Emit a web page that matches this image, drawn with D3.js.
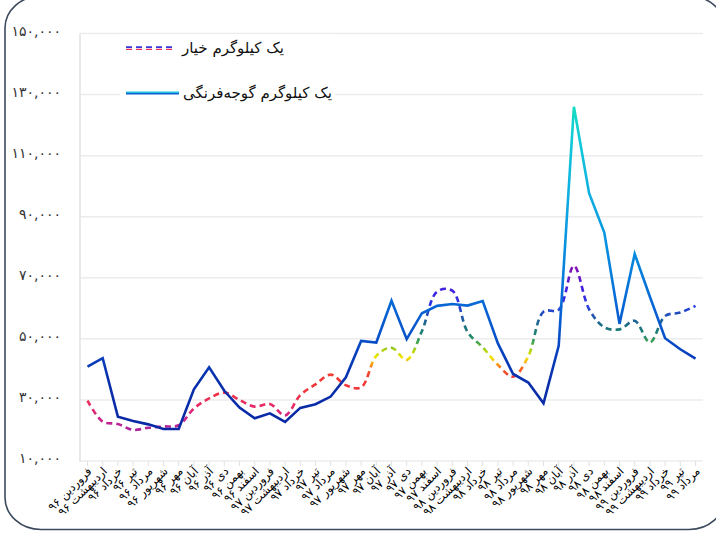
<!DOCTYPE html>
<html><head><meta charset="utf-8">
<script src="https://cdn.jsdelivr.net/npm/d3@7"></script>
<style>
html,body{margin:0;padding:0;background:#fff;}
svg{display:block;}
</style></head>
<body>
<svg id="chart" width="716" height="535"></svg>
<script>
const categories = [
 'فروردین ۹۶','اردیبهشت ۹۶','خرداد ۹۶','تیر ۹۶','مرداد ۹۶','شهریور ۹۶','مهر ۹۶','آبان ۹۶','آذر ۹۶','دی ۹۶','بهمن ۹۶','اسفند ۹۶',
 'فروردین ۹۷','اردیبهشت ۹۷','خرداد ۹۷','تیر ۹۷','مرداد ۹۷','شهریور ۹۷','مهر ۹۷','آبان ۹۷','آذر ۹۷','دی ۹۷','بهمن ۹۷','اسفند ۹۷',
 'فروردین ۹۸','اردیبهشت ۹۸','خرداد ۹۸','تیر ۹۸','مرداد ۹۸','شهریور ۹۸','مهر ۹۸','آبان ۹۸','آذر ۹۸','دی ۹۸','بهمن ۹۸','اسفند ۹۸',
 'فروردین ۹۹','اردیبهشت ۹۹','خرداد ۹۹','تیر ۹۹','مرداد ۹۹'
];
const cucumber = [29800,22900,22100,20200,20900,21300,21700,27200,30500,32400,30000,27800,28700,24900,31600,35100,38300,34800,34100,44400,47100,43100,52500,65500,65800,52300,47200,41500,37600,44300,58900,59500,73900,59700,53800,53100,55900,48800,57500,58600,60800];
const tomato = [40900,43700,24500,23100,22000,20500,20500,33500,40700,33000,27500,24000,25600,22800,27400,28600,31100,37400,49300,48800,62500,49900,58400,60800,61400,60900,62400,48500,38500,35700,28900,47700,126000,97700,84800,54900,77800,63800,50200,46600,43500];
const yTicks = [10000,30000,50000,70000,90000,110000,130000,150000];
const yTickLabels = ['۱۰,۰۰۰','۳۰,۰۰۰','۵۰,۰۰۰','۷۰,۰۰۰','۹۰,۰۰۰','۱۱۰,۰۰۰','۱۳۰,۰۰۰','۱۵۰,۰۰۰'];
const seriesNames = ['یک کیلوگرم خیار','یک کیلوگرم گوجه‌فرنگی'];
const cucumberStops = [[20000,'#a8229c'],[24000,'#d0228a'],[28000,'#e82a66'],[33000,'#f0363e'],[38000,'#f23c36'],[40500,'#f87020'],[42000,'#f8a814'],[44000,'#f0e800'],[46500,'#a8d010'],[48500,'#48a848'],[51000,'#208870'],[54500,'#1c6c84'],[58000,'#2050b8'],[61000,'#2838e0'],[66000,'#4020e0'],[74000,'#8810b0']];
const tomatoStops = [[20000,'#0a28a4'],[35000,'#0a2eaa'],[45000,'#0840bc'],[50000,'#0850c8'],[60000,'#0864d4'],[80000,'#0890e0'],[98000,'#10b0e0'],[115000,'#10c8d8'],[126000,'#14dcc0']];

const svg = d3.select('#chart');
const W = 716, H = 535;
const FONT = "'DejaVu Sans', sans-serif";

svg.append('rect').attr('x',0).attr('y',0).attr('width',W).attr('height',H).attr('fill','#fff');

const x = d3.scalePoint().domain(categories).range([87.5, 695.5]);
const y = d3.scaleLinear().domain([10000,150000]).range([461, 33.5]);
const left = 80, right = 703;

const defs = svg.append('defs');
function grad(id, stops){
  const y1 = y(stops[0][0]), y2 = y(stops[stops.length-1][0]);
  const g = defs.append('linearGradient').attr('id', id).attr('gradientUnits','userSpaceOnUse')
    .attr('x1',0).attr('x2',0).attr('y1', y1).attr('y2', y2);
  stops.forEach(s => g.append('stop').attr('offset', (y(s[0])-y1)/(y2-y1)).attr('stop-color', s[1]));
}
grad('gCuc', cucumberStops);
grad('gTom', tomatoStops);

// gridlines
svg.append('g').selectAll('line').data(yTicks).join('line')
  .attr('x1', left).attr('x2', right).attr('y1', d=>y(d)).attr('y2', d=>y(d))
  .attr('stroke','#ececec').attr('stroke-width',1.5);
// y axis line
svg.append('line').attr('x1',left).attr('x2',left).attr('y1',y(150000)).attr('y2',y(10000)+1)
  .attr('stroke','#e2e2e2').attr('stroke-width',1.5);
// x ticks
svg.append('g').selectAll('line').data(categories).join('line')
  .attr('x1', d=>x(d)).attr('x2', d=>x(d)).attr('y1', y(10000)).attr('y2', y(10000)+5)
  .attr('stroke','#e2e2e2').attr('stroke-width',1);

// y labels
svg.append('g').selectAll('text').data(yTicks).join('text')
  .attr('x', 61).attr('y', d=>y(d)-2).attr('dy','0.32em')
  .attr('text-anchor','end').attr('font-family',FONT).attr('font-size',14).attr('fill','#333')
  .attr('letter-spacing', 1.2)
  .text((d,i)=>yTickLabels[i]);

// x labels
svg.append('g').selectAll('text').data(categories).join('text')
  .attr('transform', d=>`translate(${x(d)+5},${y(10000)+11}) rotate(-45)`)
  .attr('text-anchor','end').attr('font-family',FONT).attr('font-size',11.5).attr('fill','#000')
  .text(d=>d);

// lines
const lineTom = d3.line().x((d,i)=>x(categories[i])).y(d=>y(d));
const lineCuc = d3.line().x((d,i)=>x(categories[i])).y(d=>y(d)).curve(d3.curveCatmullRom.alpha(0.5));

svg.append('path').datum(cucumber).attr('d', lineCuc).attr('fill','none')
  .attr('stroke','url(#gCuc)').attr('stroke-width',2.6).attr('stroke-dasharray','6,4');
svg.append('path').datum(tomato).attr('d', lineTom).attr('fill','none')
  .attr('stroke','url(#gTom)').attr('stroke-width',2.6).attr('stroke-linejoin','miter');

// legend
const lg = svg.append('g');
lg.append('rect').attr('x',120).attr('y',34).attr('width',215).attr('height',72).attr('fill','#fff');
lg.append('line').attr('x1',126).attr('x2',175).attr('y1',47.2).attr('y2',47.2)
  .attr('stroke','#3434e0').attr('stroke-width',1.8).attr('stroke-dasharray','6,4');
lg.append('line').attr('x1',126).attr('x2',175).attr('y1',49.3).attr('y2',49.3)
  .attr('stroke','#e83050').attr('stroke-width',1.2).attr('stroke-dasharray','6,4');
lg.append('text').attr('x',182).attr('y',48).attr('dy','0.35em').attr('font-family',FONT)
  .attr('font-size',15).attr('fill','#111').text(seriesNames[0]);
lg.append('line').attr('x1',126).attr('x2',179).attr('y1',92.3).attr('y2',92.3)
  .attr('stroke','#20c4e0').attr('stroke-width',1.5);
lg.append('line').attr('x1',126).attr('x2',179).attr('y1',93.8).attr('y2',93.8)
  .attr('stroke','#1060d0').attr('stroke-width',1.5);
lg.append('text').attr('x',183).attr('y',93).attr('dy','0.35em').attr('font-family',FONT)
  .attr('font-size',15).attr('fill','#111').text(seriesNames[1]);

// outer rounded border
svg.append('rect').attr('x',5).attr('y',-4).attr('width',720).attr('height',533.5).attr('rx',36).attr('ry',32)
  .attr('fill','none').attr('stroke','#3c4a5e').attr('stroke-width',1.6);
</script>
</body></html>
